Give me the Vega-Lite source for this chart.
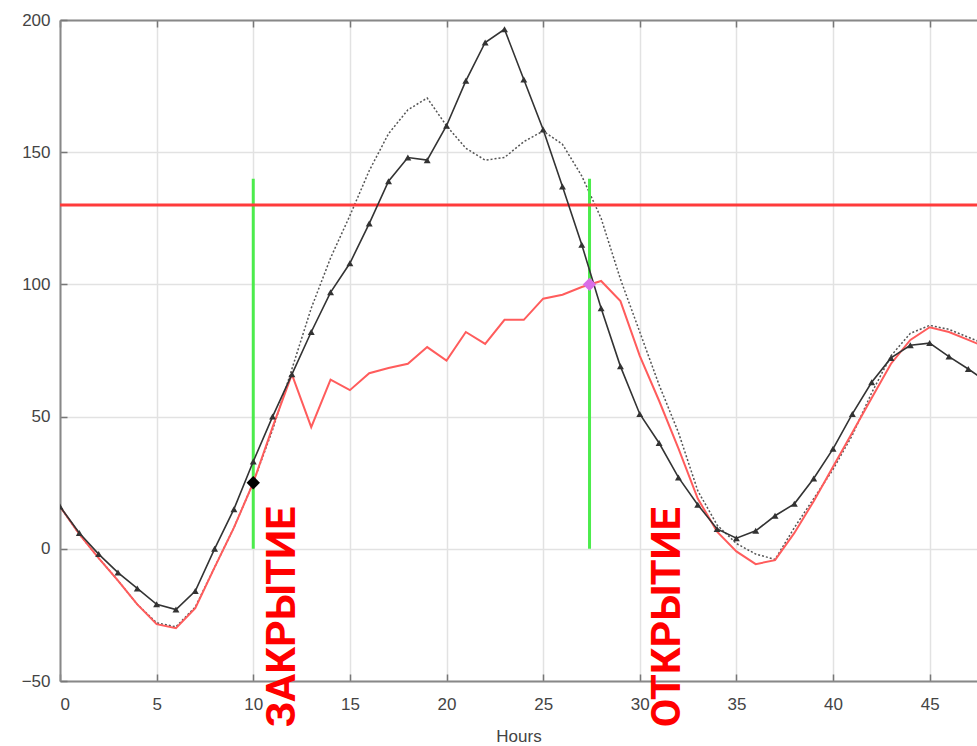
{
  "$schema": "https://vega.github.io/schema/vega-lite/v6.json",
  "autosize": {"type": "none"},
  "padding": {"left": 60, "top": 20, "right": 0, "bottom": 66},
  "width": 917,
  "height": 661,
  "background": "white",
  "config": {
    "view": {"stroke": null},
    "axis": {
      "labelFont": "Liberation Sans",
      "titleFont": "Liberation Sans",
      "labelFontSize": 17,
      "titleFontSize": 17,
      "labelColor": "#444",
      "titleColor": "#444",
      "titleFontWeight": "normal",
      "domainColor": "#888",
      "domainWidth": 2,
      "tickColor": "#777",
      "tickWidth": 1.5,
      "gridColor": "#e2e2e2",
      "gridWidth": 1.5
    }
  },
  "resolve": {"axis": {"x": "independent", "y": "independent"}},
  "datasets": {
    "curves": [
      {"h": 0, "tri": 16, "red": 16, "dot": 16},
      {"h": 1, "tri": 6, "red": 5.5, "dot": 5.5},
      {"h": 2, "tri": -2, "red": -3.5, "dot": -3.5},
      {"h": 3, "tri": -9, "red": -12, "dot": -12},
      {"h": 4, "tri": -15, "red": -21, "dot": -21},
      {"h": 5, "tri": -21, "red": -28.5, "dot": -28},
      {"h": 6, "tri": -23, "red": -30, "dot": -29.5},
      {"h": 7, "tri": -16, "red": -22.5, "dot": -22},
      {"h": 8, "tri": 0, "red": -7, "dot": -7},
      {"h": 9, "tri": 15, "red": 8, "dot": 8},
      {"h": 10, "tri": 33, "red": 25, "dot": 25},
      {"h": 11, "tri": 50, "red": 46, "dot": 45},
      {"h": 12, "tri": 66, "red": 66, "dot": 68},
      {"h": 13, "tri": 82, "red": 46, "dot": 91},
      {"h": 14, "tri": 97, "red": 64, "dot": 110},
      {"h": 15, "tri": 108, "red": 60, "dot": 126},
      {"h": 16, "tri": 123, "red": 66.4, "dot": 143},
      {"h": 17, "tri": 139, "red": 68.4, "dot": 157},
      {"h": 18, "tri": 148, "red": 70, "dot": 166},
      {"h": 19, "tri": 147, "red": 76.3, "dot": 170.5},
      {"h": 20, "tri": 160, "red": 71.2, "dot": 160},
      {"h": 21, "tri": 177, "red": 82, "dot": 151.5},
      {"h": 22, "tri": 191.5, "red": 77.5, "dot": 147},
      {"h": 23, "tri": 196.5, "red": 86.6, "dot": 148},
      {"h": 24, "tri": 177.5, "red": 86.6, "dot": 154},
      {"h": 25, "tri": 158.6, "red": 94.6, "dot": 158},
      {"h": 26, "tri": 137, "red": 96.1, "dot": 153},
      {"h": 27, "tri": 115, "red": 99, "dot": 141},
      {"h": 28, "tri": 91, "red": 101.3, "dot": 125},
      {"h": 29, "tri": 69, "red": 93.7, "dot": 102},
      {"h": 30, "tri": 51, "red": 73, "dot": 82},
      {"h": 31, "tri": 40, "red": 56, "dot": 62},
      {"h": 32, "tri": 27, "red": 38, "dot": 44},
      {"h": 33, "tri": 16.7, "red": 19, "dot": 22},
      {"h": 34, "tri": 7.5, "red": 6.5, "dot": 9},
      {"h": 35, "tri": 4, "red": -1, "dot": 2},
      {"h": 36, "tri": 6.8, "red": -5.8, "dot": -2},
      {"h": 37, "tri": 12.5, "red": -4.3, "dot": -4},
      {"h": 38, "tri": 17, "red": 6, "dot": 8},
      {"h": 39, "tri": 26.6, "red": 18, "dot": 19},
      {"h": 40, "tri": 37.8, "red": 31, "dot": 30},
      {"h": 41, "tri": 51, "red": 44, "dot": 43},
      {"h": 42, "tri": 63, "red": 57, "dot": 59},
      {"h": 43, "tri": 72.2, "red": 70, "dot": 73},
      {"h": 44, "tri": 77, "red": 79, "dot": 81.5},
      {"h": 45, "tri": 77.8, "red": 83.8, "dot": 84.5},
      {"h": 46, "tri": 72.7, "red": 82, "dot": 83},
      {"h": 47, "tri": 68, "red": 79, "dot": 80},
      {"h": 48, "tri": 63, "red": 76, "dot": 77}
    ],
    "greens": [
      {"x": 10, "y0": 0, "y1": 140},
      {"x": 27.4, "y0": 0, "y1": 140}
    ],
    "limit": [{"y": 130}],
    "diamonds": [
      {"x": 10, "y": 25, "kind": "close"},
      {"x": 27.4, "y": 100, "kind": "open"}
    ],
    "labels": [
      {"x": 11.55, "y": -67.5, "t": "ЗАКРЫТИЕ"},
      {"x": 31.45, "y": -67.5, "t": "ОТКРЫТИЕ"}
    ]
  },
  "layer": [
    {
      "data": {"name": "curves"},
      "mark": {"type": "line", "color": "#555", "strokeWidth": 1.5, "strokeDash": [2, 2], "clip": true},
      "encoding": {
        "x": {"field": "h", "type": "quantitative", "scale": {"domain": [0, 47.45], "nice": false, "zero": false},
              "axis": {"orient": "bottom", "title": "Hours", "values": [0,5,10,15,20,25,30,35,40,45], "tickSize": -7, "labelPadding": 22, "titlePadding": 16, "grid": true, "domain": true}},
        "y": {"field": "dot", "type": "quantitative", "scale": {"domain": [-50, 200], "nice": false, "zero": false},
              "axis": {"orient": "left", "title": null, "values": [-50,0,50,100,150,200], "tickSize": -7, "labelPadding": 17, "grid": true, "domain": true}}
      }
    },
    {
      "data": {"name": "curves"},
      "mark": {"type": "line", "color": "#555", "strokeWidth": 0, "opacity": 0},
      "encoding": {
        "x": {"field": "h", "type": "quantitative", "axis": {"orient": "top", "title": null, "labels": false, "values": [0,5,10,15,20,25,30,35,40,45], "tickSize": -7, "grid": false, "domain": true}},
        "y": {"field": "dot", "type": "quantitative", "axis": null}
      }
    },
    {
      "data": {"name": "greens"},
      "mark": {"type": "rule", "color": "#4cec4c", "strokeWidth": 3},
      "encoding": {
        "x": {"field": "x", "type": "quantitative", "axis": null},
        "y": {"field": "y0", "type": "quantitative", "axis": null},
        "y2": {"field": "y1"}
      }
    },
    {
      "data": {"name": "limit"},
      "mark": {"type": "rule", "color": "#ff3b3b", "strokeWidth": 3},
      "encoding": {
        "y": {"field": "y", "type": "quantitative", "axis": null}
      }
    },
    {
      "data": {"name": "curves"},
      "mark": {"type": "line", "color": "#ff5c5c", "strokeWidth": 2, "clip": true},
      "encoding": {
        "x": {"field": "h", "type": "quantitative", "axis": null},
        "y": {"field": "red", "type": "quantitative", "axis": null}
      }
    },
    {
      "data": {"name": "curves"},
      "mark": {"type": "line", "color": "#333", "strokeWidth": 1.6, "clip": true,
               "point": {"shape": "triangle-up", "filled": true, "size": 48, "color": "#333"}},
      "encoding": {
        "x": {"field": "h", "type": "quantitative", "axis": null},
        "y": {"field": "tri", "type": "quantitative", "axis": null}
      }
    },
    {
      "data": {"name": "diamonds"},
      "mark": {"type": "point", "shape": "diamond", "filled": true, "size": 180, "opacity": 1},
      "encoding": {
        "x": {"field": "x", "type": "quantitative", "axis": null},
        "y": {"field": "y", "type": "quantitative", "axis": null},
        "color": {"field": "kind", "type": "nominal", "scale": {"domain": ["close", "open"], "range": ["#000000", "#d86ee8"]}, "legend": null}
      }
    },
    {
      "data": {"name": "labels"},
      "mark": {"type": "text", "angle": 270, "align": "left", "baseline": "middle", "font": "Roboto", "fontWeight": "bold", "fontSize": 41.5, "color": "#ff0000"},
      "encoding": {
        "x": {"field": "x", "type": "quantitative", "axis": null},
        "y": {"field": "y", "type": "quantitative", "axis": null},
        "text": {"field": "t"}
      }
    }
  ]
}
